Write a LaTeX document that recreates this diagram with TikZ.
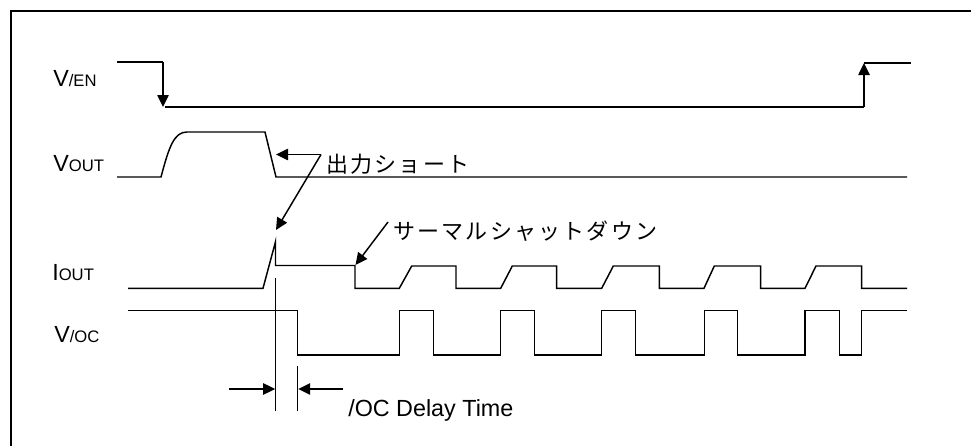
\documentclass[tikz,border=0pt]{standalone}
\usepackage{fontspec}
\setmainfont{Liberation Sans}
\newfontfamily\jp[LetterSpace=10]{Noto Sans CJK JP}
\usetikzlibrary{arrows.meta}
\newcommand{\smcap}[1]{{\fontsize{12.5}{14}\selectfont #1}}
\begin{document}
\begin{tikzpicture}[x=0.75pt,y=-0.75pt,
  sig/.style={line width=1.1pt,line join=miter},
  arr/.style={line width=1.1pt,-{Triangle[length=9pt,width=8.5pt]}},
  lab/.style={anchor=base west,inner sep=0pt,font=\fontsize{17.5}{20}\selectfont},
  jlab/.style={anchor=west,inner sep=0pt,font=\jp\fontsize{16.5}{20}\selectfont}]
\useasboundingbox (0,0) rectangle (971,446);
\fill[white] (0,0) rectangle (971,446);
% frame (open to the right and bottom)
\draw[line width=1.6pt] (11,470) -- (11,10.7) -- (990,10.7);

% signal labels
\node[lab] (len)   at (53,86.7)  {V\smcap{/EN}};
\node[lab] (lvout) at (53,171.7) {V\smcap{OUT}};
\node[lab] (liout) at (52,280)   {I\smcap{OUT}};
\node[lab] (lvoc)  at (54,342)   {V\smcap{/OC}};

% V/EN
\coordinate (en0) at (117,62);
\coordinate (en1) at (163,62);
\coordinate (en2) at (163,107);
\coordinate (en3) at (165,107);
\coordinate (en4) at (864,107);
\coordinate (en5) at (864,63);
\coordinate (en6) at (911,63);
\draw[sig] (en0) -- (en1);
\draw[arr] (en1) -- (en2);
\draw[sig] (en3) -- (en4);
\draw[arr] (en4) -- (en5);
\draw[sig] (en5) -- (en6);

% VOUT
\draw[sig] (117,177) -- (161,177) .. controls (169,147) and (174,132) .. (187,132)
  -- (265,132) -- (276,177) -- (907,177);

% IOUT
\draw[sig] (128,288.3) -- (263,288.3) -- (275.5,241.7) -- (275.5,265.5) -- (355,265.5)
  -- (355,288.3) -- (399.3,288.3) -- (411.7,266) -- (456,266)
  -- (456,288.3) -- (500.7,288.3) -- (512.3,266) -- (556.7,266)
  -- (556.7,288.3) -- (601.7,288.3) -- (613.3,266) -- (659.3,266)
  -- (659.3,288.3) -- (704,288.3) -- (714.3,266) -- (760.7,266)
  -- (760.7,288.3) -- (805,288.3) -- (816,266) -- (861.7,266)
  -- (861.7,288.3) -- (907,288.3);

% V/OC
\draw[sig] (128,310.7) -- (297.7,310.7) -- (297.7,355) -- (399.3,355)
  -- (399.3,310.7) -- (433.3,310.7) -- (433.3,355) -- (500.7,355)
  -- (500.7,310.7) -- (534.7,310.7) -- (534.7,355) -- (601.7,355)
  -- (601.7,310.7) -- (635.7,310.7) -- (635.7,355) -- (704.3,355)
  -- (704.3,310.7) -- (737.7,310.7) -- (737.7,355) -- (805,355)
  -- (805,310.7) -- (839.3,310.7) -- (839.3,355) -- (861.7,355)
  -- (861.7,310.7) -- (907,310.7);

% 出力ショート annotation
\node[jlab] (short) at (326,164) {出力ショート};
\coordinate (sc) at (321,154.5);
\coordinate (sh1) at (276,154.5);
\coordinate (sh2) at (276,230);
\draw[arr] (sc) -- (sh1);
\draw[arr] (sc) -- (sh2);

% サーマルシャットダウン annotation
\node[jlab] (tsd) at (393,231) {サーマルシャットダウン};
\coordinate (ts0) at (388,222);
\coordinate (ts1) at (355.5,265);
\draw[arr] (ts0) -- (ts1);

% /OC delay time
\coordinate (d1t) at (275.7,278);
\coordinate (d1b) at (275.7,411);
\coordinate (d2t) at (297.7,366);
\coordinate (d2b) at (297.7,411);
\draw[sig] (d1t) -- (d1b);
\draw[sig] (d2t) -- (d2b);
\coordinate (da0) at (229,389);
\coordinate (da1) at (275.2,389);
\coordinate (db0) at (343,389);
\coordinate (db1) at (298.2,389);
\draw[arr] (da0) -- (da1);
\draw[arr] (db0) -- (db1);
\node[lab] (dly) at (348,416) {/OC Delay Time};
\end{tikzpicture}
\end{document}
